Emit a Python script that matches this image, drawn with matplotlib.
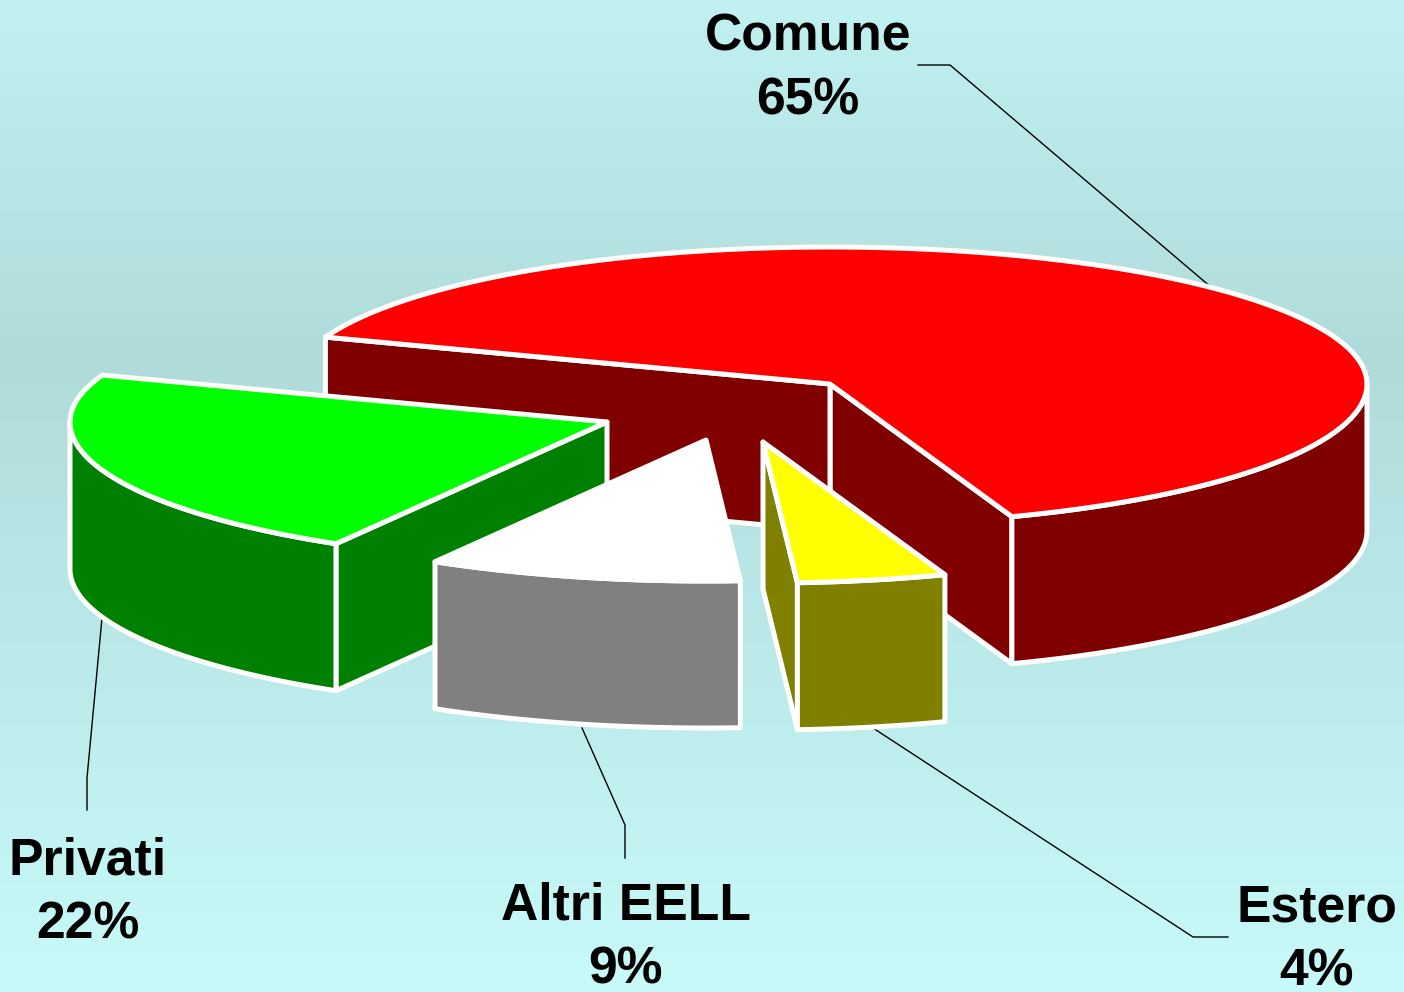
import matplotlib
matplotlib.use("Agg")
import matplotlib.pyplot as plt
import numpy as np
from matplotlib.colors import LinearSegmentedColormap
from matplotlib.patches import Polygon

labels = ["Comune", "Privati", "Altri EELL", "Estero"]
shares = [65, 22, 9, 4]
# slice sizes as they actually measure on the picture (the labels are rounded differently)
drawn_shares = [63.94, 22.14, 9.44, 4.48]

top_colors = ["#FF0000", "#00FF00", "#FFFFFF", "#FFFF00"]
wall_colors = ["#800000", "#008000", "#808080", "#808000"]

# apex of each exploded slice, in picture pixels
apex_x = [830, 607, 706, 763]
apex_y = [384, 422, 440, 442]

rx = 537
ry_back = 137
ry_front = 141
depth = 147
start_angle = -70.2
outline = 3.6

plt.rcParams['font.family'] = ['Liberation Sans', 'DejaVu Sans']

fig = plt.figure(figsize=(14.04, 9.92), dpi=100)
ax = fig.add_axes([0, 0, 1, 1])
ax.set_xlim(0, 1404)
ax.set_ylim(992, 0)
ax.axis('off')

# background gradient
stops = [(0, (193 / 255, 241 / 255, 241 / 255)),
         (0.36, (176 / 255, 219 / 255, 219 / 255)),
         (1, (200 / 255, 250 / 255, 250 / 255))]
cmap = LinearSegmentedColormap.from_list("bg", stops)
ax.imshow(np.linspace(0, 1, 992).reshape(-1, 1), cmap=cmap, aspect='auto',
          extent=(0, 1404, 992, 0), zorder=0)

# leader lines
leaders = [([918, 950, 1212], [65, 65, 288]),
           ([102, 87, 87], [618, 778, 810]),
           ([582, 625, 625], [728, 825, 858]),
           ([873, 1193, 1228], [728, 937, 937])]
for lx, ly in leaders:
    ax.plot(lx, ly, color='black', lw=1.0, zorder=1)


def rim(cx, cy, t):
    r = np.radians(t)
    s = np.sin(r)
    return cx + rx * np.cos(r), cy - np.where(s < 0, ry_front, ry_back) * s


def draw_poly(xs, ys, color, z):
    ax.add_patch(Polygon(np.column_stack([xs, ys]), closed=True, facecolor=color,
                         edgecolor='white', lw=outline, joinstyle='round', zorder=z))


angle = start_angle
z = 2
for i, share in enumerate(drawn_shares):
    t0 = angle
    t1 = angle + 360 * share / 100
    angle = t1
    cx, cy = apex_x[i], apex_y[i]

    # cut faces, only those that turn towards the viewer
    faces = []
    if np.cos(np.radians(t0)) > 0:
        faces.append(t0)
    if np.cos(np.radians(t1)) < 0:
        faces.append(t1)
    for t in faces:
        ex, ey = rim(cx, cy, t)
        draw_poly([cx, ex, ex, cx], [cy, ey, ey + depth, cy + depth], wall_colors[i], z)
        z += 1

    # outer wall, front half of the rim only
    ts = np.linspace(t0, t1, 120)
    front = ts[np.sin(np.radians(ts)) <= 0]
    if len(front) > 1:
        wx, wy = rim(cx, cy, front)
        draw_poly(np.r_[wx, wx[::-1]], np.r_[wy, wy[::-1] + depth], wall_colors[i], z)
        z += 1

    # top
    tx, ty = rim(cx, cy, ts)
    draw_poly(np.r_[cx, tx], np.r_[cy, ty], top_colors[i], z)
    z += 1

# labels
label_x = [808, 88, 626, 1317]
label_y = [69, 893, 938, 940]
for name, share, x, y in zip(labels, shares, label_x, label_y):
    ax.text(x, y, f"{name}\n{share}%", ha='center', va='center', fontsize=37.2,
            fontweight='bold', color='black', linespacing=1.42, zorder=50)

fig.savefig("out.png", dpi=100)
